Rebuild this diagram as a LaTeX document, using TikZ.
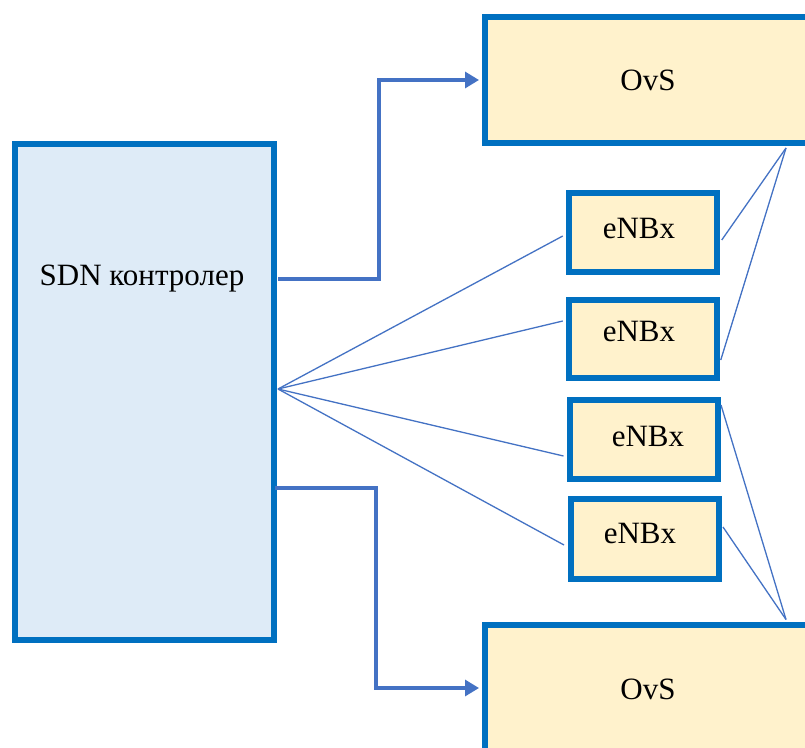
\documentclass[tikz,border=0pt]{standalone}
\usepackage{fontspec}
\setmainfont{Liberation Serif}
\usetikzlibrary{arrows.meta,calc}
\definecolor{boxblue}{HTML}{0070C0}
\definecolor{sdnfill}{HTML}{DEEBF7}
\definecolor{ovsfill}{HTML}{FFF2CC}
\definecolor{linkblue}{HTML}{4472C4}
\tikzset{
  sdnbox/.style={draw=boxblue,line width=6pt,fill=sdnfill,inner sep=0pt},
  ovsbox/.style={draw=boxblue,line width=6pt,fill=ovsfill,inner sep=0pt},
  lbl/.style={font=\fontsize{31}{36}\selectfont,inner sep=0pt,anchor=center},
  thin link/.style={draw=linkblue,line width=1.3pt},
  ctrl link/.style={draw=linkblue,line width=3.2pt,-{Triangle[length=14pt,width=16pt]}}
}
\begin{document}
\begin{tikzpicture}[x=1pt,y=-1pt]
\useasboundingbox (0,0) rectangle (805,747);
\fill[white] (0,0) rectangle (805,747);
% boxes
\node[sdnbox,minimum width=259pt,minimum height=496pt] (sdn) at (144,392) {};
\node[ovsbox,minimum width=345pt,minimum height=126pt] (ovs1) at (657.5,80) {};
\node[ovsbox,minimum width=345pt,minimum height=135pt] (ovs2) at (657.5,692) {};
\node[ovsbox,minimum width=148.5pt,minimum height=79.5pt] (e1) at (643,232.5) {};
\node[ovsbox,minimum width=148.5pt,minimum height=78pt] (e2) at (643,339) {};
\node[ovsbox,minimum width=147.5pt,minimum height=79pt] (e3) at (643.75,439.5) {};
\node[ovsbox,minimum width=147.5pt,minimum height=80pt] (e4) at (644.75,539) {};
% texts
\node[lbl] (tsdn) at (142,279) {SDN контролер};
\node[lbl] (tovs1) at (648,80) {OvS};
\node[lbl] (tovs2) at (648,689) {OvS};
\node[lbl] (te1) at (639,228) {eNBx};
\node[lbl] (te2) at (639,331) {eNBx};
\node[lbl] (te3) at (648,436) {eNBx};
\node[lbl] (te4) at (640,533) {eNBx};
% fan from controller
\coordinate (fan) at ($(sdn.east)+(1.5,-3)$);
\draw[thin link] (fan) -- ($(e1.west)+(-3,3.5)$);
\draw[thin link] (fan) -- ($(e2.west)+(-3,-18)$);
\draw[thin link] (fan) -- ($(e3.west)+(-3.5,16.5)$);
\draw[thin link] (fan) -- ($(e4.west)+(-4,6)$);
% links to OvS
\coordinate (top) at ($(ovs1.south west)+(304,2)$);
\coordinate (bot) at ($(ovs2.north west)+(304,-2)$);
\draw[thin link] (top) -- ($(e1.east)+(1.5,7.5)$);
\draw[thin link] (top) -- ($(e2.east)+(0.5,21)$);
\draw[thin link] (bot) -- ($(e3.east)+(0.5,-34.5)$);
\draw[thin link] (bot) -- ($(e4.east)+(1.5,-12)$);
% controller arrows
\draw[ctrl link] ($(sdn.east)+(1.5,-113)$) -| (379,80) -- ($(ovs1.west)+(-3,0)$);
\draw[ctrl link] ($(sdn.east)+(-1.5,96)$) -| (376,688) -- ($(ovs2.west)+(-3,-4)$);
\end{tikzpicture}
\end{document}
